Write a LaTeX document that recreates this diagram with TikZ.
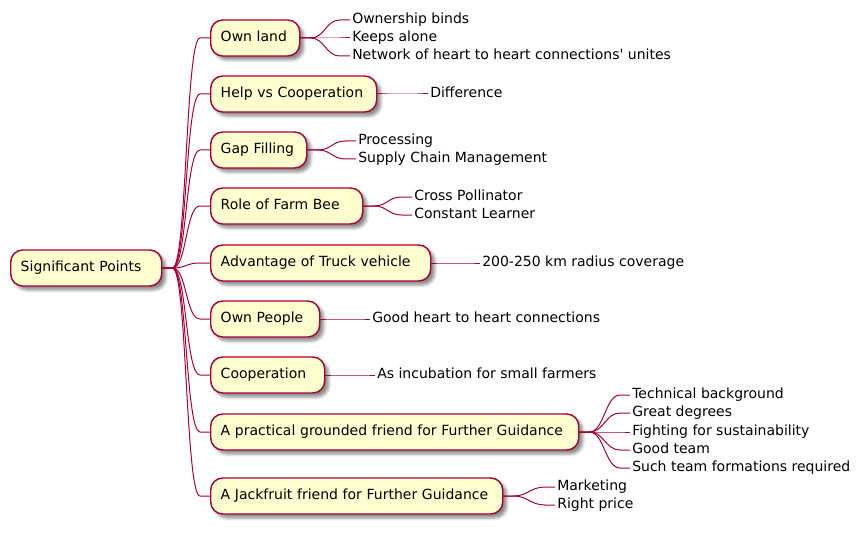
\documentclass[tikz,border=0pt]{standalone}
\usepackage{fontspec}
\setmainfont{DejaVu Sans}
\usepackage{tikz}
\definecolor{plumred}{HTML}{A80036}
\definecolor{paleyellow}{HTML}{FEFECE}
\usetikzlibrary{shadows,shadows.blur,calc,positioning}
\tikzstyle{topic}=[rectangle,rounded corners=9pt,draw=plumred,fill=paleyellow,line width=1.1pt,
  minimum height=27pt,inner xsep=7.5pt,text height=8pt,text depth=2.3pt,anchor=west,align=left,
  blur shadow={shadow xshift=3pt,shadow yshift=-3pt,shadow blur radius=2.2pt,shadow opacity=45}]
\tikzstyle{leaf}=[anchor=west,inner xsep=1.5pt,inner ysep=0pt,text height=8pt,text depth=2.3pt]
\tikzstyle{link}=[draw=plumred,line width=0.75pt]
\tikzset{branch/.style={to path={-- ++(10,0) .. controls +(14.5,0) and ([xshift=-18.4pt]\tikztotarget)
  .. ([xshift=-7.5pt]\tikztotarget) -- (\tikztotarget)}}}
\newcommand{\straightquote}{\XeTeXglyph\XeTeXglyphindex "quotesingle"\relax}

\begin{document}
\begin{tikzpicture}[x=0.75pt,y=-0.75pt,font=\fontsize{10.5}{12.6}\selectfont]
    \useasboundingbox (0,0) rectangle (865,535);

    \node[topic,text width=98.25pt] (root) at (10,268) {Significant Points};

    \node[topic,text width=51.75pt] (land)   at (210,38)  {Own land};
    \node[topic,text width=109.5pt] (help)   at (210,94)  {Help vs Cooperation};
    \node[topic,text width=57pt]    (gap)    at (210,150) {Gap Filling};
    \node[topic,text width=99pt]    (bee)    at (210,206) {Role of Farm Bee};
    \node[topic,text width=150pt]   (truck)  at (210,263) {Advantage of Truck vehicle};
    \node[topic,text width=66.75pt] (people) at (210,319) {Own People};
    \node[topic,text width=70.5pt]  (coop)   at (210,375) {Cooperation};
    \node[topic,text width=261pt]   (guide)  at (210,432) {A practical grounded friend for Further Guidance};
    \node[topic,text width=204pt]   (jack)   at (210,496) {A Jackfruit friend for Further Guidance};

    \node[leaf] (land1) at (350,20) {Ownership binds};
    \node[leaf] (land2) at (350,38) {Keeps alone};
    \node[leaf] (land3) at (350,56) {Network of heart to heart connections\straightquote\ unites};
    \node[leaf] (help1) at (428,94) {Difference};
    \node[leaf] (gap1) at (356,141) {Processing};
    \node[leaf] (gap2) at (356,159) {Supply Chain Management};
    \node[leaf] (bee1) at (412,197) {Cross Pollinator};
    \node[leaf] (bee2) at (412,215) {Constant Learner};
    \node[leaf] (truck1) at (480,263) {200-250 km radius coverage};
    \node[leaf] (people1) at (370,319) {Good heart to heart connections};
    \node[leaf] (coop1) at (375,375) {As incubation for small farmers};
    \node[leaf] (guide1) at (630,395) {Technical background};
    \node[leaf] (guide2) at (630,413) {Great degrees};
    \node[leaf] (guide3) at (630,432) {Fighting for sustainability};
    \node[leaf] (guide4) at (630,450) {Good team};
    \node[leaf] (guide5) at (630,468) {Such team formations required};
    \node[leaf] (jack1) at (555,487) {Marketing};
    \node[leaf] (jack2) at (555,505) {Right price};

    \foreach \t in {land,help,gap,bee,truck,people,coop,guide,jack}
      \draw[link] (root.east) to[branch] (\t.west);

    \foreach \p/\c in {land/land1,land/land2,land/land3,help/help1,gap/gap1,gap/gap2,
      bee/bee1,bee/bee2,truck/truck1,people/people1,coop/coop1,guide/guide1,guide/guide2,
      guide/guide3,guide/guide4,guide/guide5,jack/jack1,jack/jack2}
      \draw[link] (\p.east) to[branch] (\c.west);
\end{tikzpicture}
\end{document}
